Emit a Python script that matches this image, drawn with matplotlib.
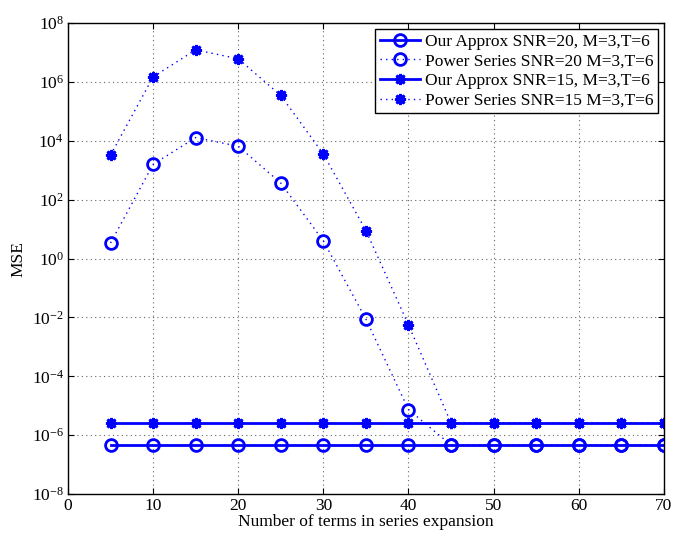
import matplotlib
matplotlib.use("Agg")
import matplotlib.pyplot as plt
from matplotlib.ticker import LogLocator, LogFormatterMathtext, NullLocator

plt.rcParams['font.family'] = ['Liberation Serif', 'DejaVu Serif']
plt.rcParams['mathtext.fontset'] = 'stix'

# terms in series expansion
terms = [5, 10, 15, 20, 25, 30, 35, 40, 45, 50, 55, 60, 65, 70]

# MSE values
approx_snr20 = [4.6e-7] * len(terms)
power_snr20 = [3.4, 1.6e3, 1.3e4, 6.6e3, 3.7e2, 4.0, 8.8e-3, 7.4e-6,
               4.6e-7, 4.6e-7, 4.6e-7, 4.6e-7, 4.6e-7, 4.6e-7]
approx_snr15 = [2.6e-6] * len(terms)
power_snr15 = [3.3e3, 1.5e6, 1.25e7, 6.2e6, 3.5e5, 3.6e3, 9.0, 5.6e-3,
               2.6e-6, 2.6e-6, 2.6e-6, 2.6e-6, 2.6e-6, 2.6e-6]

labels = ['Our Approx SNR=20, M=3,T=6',
          'Power Series SNR=20 M=3,T=6',
          'Our Approx SNR=15, M=3,T=6',
          'Power Series SNR=15 M=3,T=6']

fig = plt.figure(figsize=(6.74, 5.38), dpi=100)
ax = fig.add_axes([0.1009, 0.0818, 0.884, 0.875])

star = (8, 2, 0)
dots = (0, (1, 3))
ax.plot(terms, approx_snr20, '-', color='blue', lw=2, marker='o', ms=8.5,
        mfc='none', mew=2, label=labels[0])
ax.plot(terms, power_snr20, color='blue', ls=dots, lw=1, marker='o', ms=8.5,
        mfc='none', mew=2, label=labels[1])
ax.plot(terms, approx_snr15, '-', color='blue', lw=2, marker=star, ms=8,
        mew=2, label=labels[2])
ax.plot(terms, power_snr15, color='blue', ls=dots, lw=1, marker=star, ms=8,
        mew=2, label=labels[3])

ax.set_yscale('log')
ax.set_xlim(0, 70)
ax.set_ylim(1e-8, 1e8)
ax.set_xticks(range(0, 71, 10))
ax.yaxis.set_major_locator(LogLocator(base=100))
ax.yaxis.set_major_formatter(LogFormatterMathtext())
ax.yaxis.set_minor_locator(NullLocator())
ax.tick_params(which='both', direction='in', top=True, right=True,
               labelsize=12.5, length=4, pad=3)
ax.grid(True, which='major', linestyle=(0, (1, 3)), color='0.4', lw=0.8)
for s in ax.spines.values():
    s.set_linewidth(1)

ax.set_xlabel('Number of terms in series expansion', fontsize=12.5, labelpad=0)
ax.set_ylabel('MSE', fontsize=12.5, labelpad=4)

leg = ax.legend(loc='upper right', fontsize=12.5, fancybox=False,
                framealpha=1, edgecolor='black', handlelength=2.3,
                borderpad=0.25, labelspacing=0.2, handletextpad=0.3,
                borderaxespad=0.35)
leg.get_frame().set_linewidth(1)

fig.savefig('out.png', dpi=100)
